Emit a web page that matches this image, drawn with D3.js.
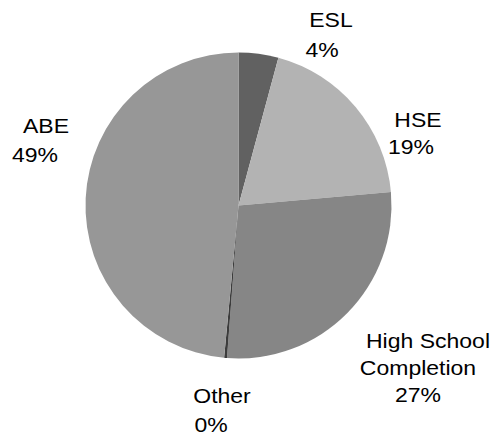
<!DOCTYPE html>
<meta charset="utf-8">
<title>Pie</title>
<style>
body { margin: 0; background: #fff; }
text { font-family: "Liberation Sans", Arial, sans-serif; font-size: 20px; fill: #000; }
</style>
<svg width="494" height="437"></svg>
<script src="https://d3js.org/d3.v7.min.js"></script>
<script>

var categories = ["ESL", "HSE", "High School Completion", "Other", "ABE"];
var values = [4.2, 19.4, 27.6, 0.3, 48.5];
var pctLabels = ["4%", "19%", "27%", "0%", "49%"];
var colors = ["#616161", "#b3b3b3", "#868686", "#3c3c3c", "#979797"];

// label lines, each line: [text, centre x, baseline y]
var labelLines = [
  [["ESL", 331, 27], ["4%", 322, 57]],
  [["HSE", 418, 127], ["19%", 411, 154]],
  [["High School", 428, 348], ["Completion", 418, 375], ["27%", 418, 402]],
  [["Other", 222, 403], ["0%", 211, 432]],
  [["ABE", 46, 133], ["49%", 35, 162]]
];

var svg = d3.select("svg"),
    cx = 238.5, cy = 205.5, radius = 153;

var pie = d3.pie().sort(null).value(function(d) { return d; });
var arc = d3.arc().innerRadius(0).outerRadius(radius);

var g = svg.append("g").attr("transform", "translate(" + cx + "," + cy + ")");

g.selectAll("path")
    .data(pie(values))
    .enter().append("path")
    .attr("d", arc)
    .attr("fill", function(d, i) { return colors[i]; });

categories.forEach(function(c, i) {
  labelLines[i].forEach(function(l, j) {
    // the last line holds the percentage
    var txt = j == labelLines[i].length - 1 ? pctLabels[i] : l[0];
    svg.append("text")
      .attr("text-anchor", "middle")
      .attr("transform", "translate(" + l[1] + "," + l[2] + ") scale(1.15,1)")
      .text(txt);
  });
});

</script>
